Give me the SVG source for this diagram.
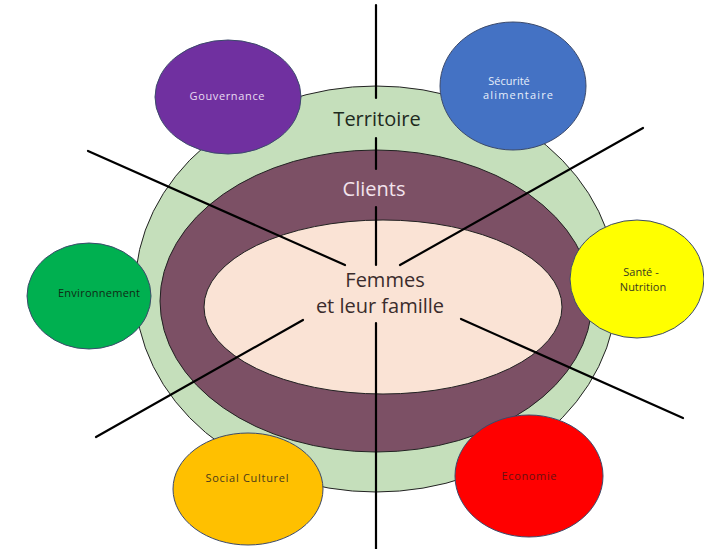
<svg xmlns="http://www.w3.org/2000/svg" width="704" height="549" viewBox="0 0 704 549">
<style>
.ring{stroke:#222;stroke-width:1}
.ln{stroke:#000;stroke-width:2.2;fill:none;stroke-linecap:round}
.big{font-family:"Open Sans","Noto Sans",sans-serif;font-size:20px;text-anchor:middle}
.sm{font-family:"Open Sans","Noto Sans",sans-serif;font-size:11px;text-anchor:middle}
.cir{stroke:#3c4a6b;stroke-width:1}
</style>
<rect width="704" height="549" fill="#fff"/>
<g id="territoire">
<ellipse class="ring" cx="376" cy="289" rx="241" ry="203" fill="#c5dfbb"/>
<text class="big" x="377" y="126" fill="#1e2a1e">Territoire</text>
</g>
<g id="clients">
<ellipse class="ring" cx="376" cy="301" rx="216" ry="151" fill="#7c5065"/>
<text class="big" x="374" y="196" fill="#f3e3ec">Clients</text>
</g>
<g id="femmes">
<ellipse class="ring" cx="383" cy="307" rx="179" ry="87" fill="#fae3d5"/>
<text class="big" x="385" y="287" fill="#3a2c2c">Femmes</text>
<text class="big" x="380" y="313" fill="#3a2c2c">et leur famille</text>
</g>
<g id="connectors">
<line class="ln" x1="376" y1="5" x2="376" y2="98"/>
<line class="ln" x1="376" y1="138" x2="376" y2="169"/>
<line class="ln" x1="376" y1="207" x2="376" y2="265"/>
<line class="ln" x1="376" y1="323" x2="376" y2="549"/>
<line class="ln" x1="88" y1="151" x2="345" y2="265"/>
<line class="ln" x1="643" y1="128" x2="400" y2="265"/>
<line class="ln" x1="96" y1="437" x2="303" y2="320"/>
<line class="ln" x1="461" y1="319" x2="683" y2="418"/>
</g>
<g id="gouvernance">
<ellipse class="cir" cx="228" cy="97" rx="73" ry="57" fill="#7030a0"/>
<text class="sm" x="227" y="100" fill="#e8dcf2" textLength="75" lengthAdjust="spacing">Gouvernance</text>
</g>
<g id="securite">
<ellipse class="cir" cx="513" cy="86" rx="73" ry="64" fill="#4472c4"/>
<text class="sm" x="509" y="85" fill="#e6eefa">Sécurité</text>
<text class="sm" x="518" y="99" fill="#e6eefa" textLength="70" lengthAdjust="spacing">alimentaire</text>
</g>
<g id="environnement">
<ellipse class="cir" cx="89" cy="296" rx="62" ry="53" fill="#00b050"/>
<text class="sm" x="99" y="297" fill="#0f2a14" textLength="82" lengthAdjust="spacing">Environnement</text>
</g>
<g id="sante">
<ellipse class="cir" cx="637" cy="279" rx="67" ry="59" fill="#ffff00"/>
<text class="sm" x="641" y="276" fill="#3a3a20">Santé -</text>
<text class="sm" x="643" y="291" fill="#3a3a20">Nutrition</text>
</g>
<g id="social">
<ellipse class="cir" cx="248" cy="489" rx="75" ry="56" fill="#ffc000"/>
<text class="sm" x="247" y="482" fill="#4a3a1a" textLength="83" lengthAdjust="spacing">Social  Culturel</text>
</g>
<g id="economie">
<ellipse class="cir" cx="529" cy="476" rx="74" ry="61" fill="#ff0000"/>
<text class="sm" x="529" y="480" fill="#6a1010" textLength="55" lengthAdjust="spacing">Economie</text>
</g>
</svg>
